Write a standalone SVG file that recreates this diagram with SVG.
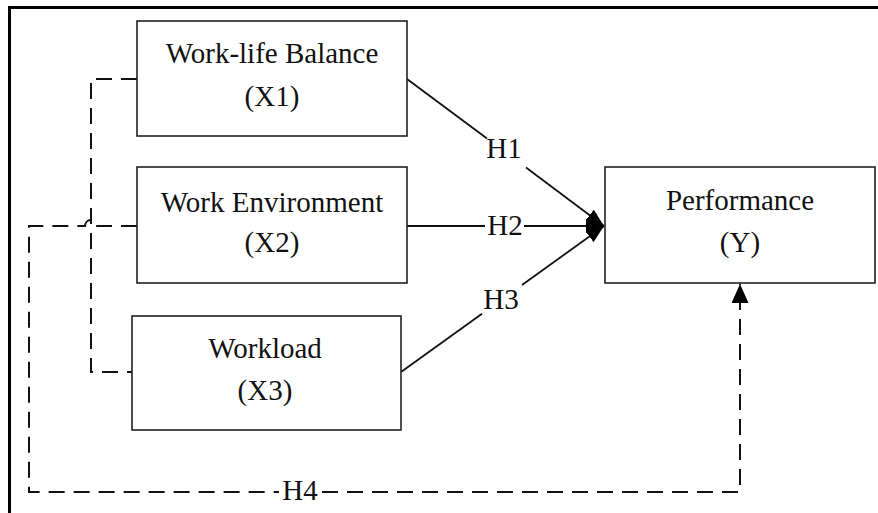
<svg xmlns="http://www.w3.org/2000/svg" width="878" height="513" viewBox="0 0 878 513">
<style>
  .box { fill: #fff; stroke: #222; stroke-width: 1.6; }
  .lbl { font-family: "Liberation Serif", "Times New Roman", serif; font-size: 29px; fill: #111; text-anchor: middle; }
  .solid { fill: none; stroke: #111; stroke-width: 1.8; }
  .dash { fill: none; stroke: #111; stroke-width: 2; stroke-dasharray: 16 9; }
  .frame { fill: none; stroke: #000; stroke-width: 3; }
</style>
<defs>
  <marker id="arr" markerUnits="userSpaceOnUse" markerWidth="20" markerHeight="16" refX="18" refY="7" orient="auto">
    <path d="M0,0 L18,7 L0,14 Z" fill="#000"/>
  </marker>
  <marker id="arr4" markerUnits="userSpaceOnUse" markerWidth="20" markerHeight="18" refX="19" refY="8.5" orient="auto">
    <path d="M0,0 L19,8.5 L0,17 Z" fill="#000"/>
  </marker>
</defs>
<rect width="878" height="513" fill="#fff"/>
<path class="frame" d="M9.5,513 V7.5 H878"/>

<g id="connectors">
  <!-- H1 -->
  <line class="solid" x1="407" y1="79" x2="487" y2="138.5"/>
  <line class="solid" x1="526" y1="167.5" x2="604" y2="226" marker-end="url(#arr)"/>
  <!-- H2 -->
  <line class="solid" x1="407" y1="226" x2="485" y2="226"/>
  <line class="solid" x1="524" y1="226" x2="604" y2="226" marker-end="url(#arr)"/>
  <!-- H3 -->
  <line class="solid" x1="401" y1="372" x2="482" y2="313.8"/>
  <line class="solid" x1="522" y1="285" x2="604" y2="226" marker-end="url(#arr)"/>
  <!-- X1-X3 correlation -->
  <path class="dash" d="M137,79 H91 V372 H132"/>
  <!-- H4 -->
  <path class="dash" d="M137,226 H97 A6,6 0 0 0 85,226 H29 V492 H279"/>
  <path class="dash" d="M322,492 H740 V284" marker-end="url(#arr4)"/>
  <text class="lbl" x="504" y="158">H1</text>
  <text class="lbl" x="505" y="235">H2</text>
  <text class="lbl" x="501" y="309">H3</text>
  <text class="lbl" x="300" y="500">H4</text>
</g>

<g id="x1">
  <rect class="box" x="137" y="21" width="270" height="115"/>
  <text class="lbl" x="272" y="63">Work-life Balance</text>
  <text class="lbl" x="272" y="106">(X1)</text>
</g>
<g id="x2">
  <rect class="box" x="137" y="167" width="270" height="116"/>
  <text class="lbl" x="272" y="212">Work Environment</text>
  <text class="lbl" x="272" y="252">(X2)</text>
</g>
<g id="x3">
  <rect class="box" x="132" y="316" width="269" height="114"/>
  <text class="lbl" x="265" y="358">Workload</text>
  <text class="lbl" x="265" y="400">(X3)</text>
</g>
<g id="y">
  <rect class="box" x="605" y="167" width="270" height="116"/>
  <text class="lbl" x="740" y="210">Performance</text>
  <text class="lbl" x="740" y="252">(Y)</text>
</g>
</svg>
